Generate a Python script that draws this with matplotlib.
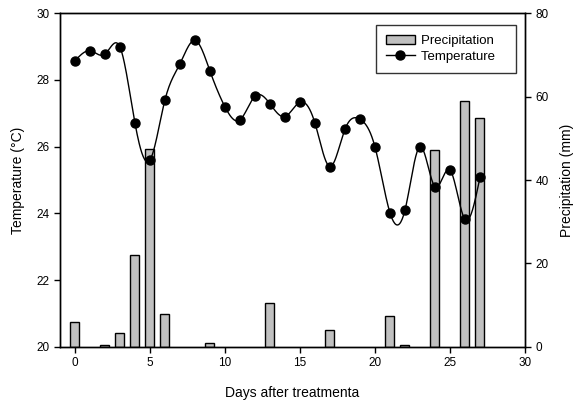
import numpy as np
import matplotlib
matplotlib.use("Agg")
import matplotlib.pyplot as plt
from matplotlib.patches import Patch
from matplotlib.lines import Line2D

plt.rcParams['font.family'] = ['Liberation Sans', 'DejaVu Sans']

days = [0, 1, 2, 3, 4, 5, 6, 7, 8, 9, 10, 11, 12, 13, 14, 15, 16, 17, 18, 19,
        20, 21, 22, 23, 24, 25, 26, 27]
temperature = [28.57, 28.87, 28.77, 28.98, 26.70, 25.60, 27.40, 28.48, 29.18, 28.26,
               27.19, 26.80, 27.51, 27.28, 26.90, 27.33, 26.70, 25.40, 26.52, 26.82,
               25.99, 24.02, 24.10, 26.00, 24.80, 25.30, 23.82, 25.08]

precip_days = [0, 2, 3, 4, 5, 6, 9, 13, 17, 21, 22, 24, 26, 27]
precip = [5.9, 0.4, 3.4, 22.0, 47.5, 8.0, 1.0, 10.5, 4.1, 7.5, 0.4, 47.3, 59.0, 54.9]


def natural_spline(x, y, n=600):
    x = np.asarray(x, float)
    y = np.asarray(y, float)
    m = len(x)
    h = np.diff(x)
    A = np.zeros((m, m))
    b = np.zeros(m)
    A[0, 0] = 1
    A[-1, -1] = 1
    for i in range(1, m - 1):
        A[i, i - 1] = h[i - 1]
        A[i, i] = 2 * (h[i - 1] + h[i])
        A[i, i + 1] = h[i]
        b[i] = 3 * ((y[i + 1] - y[i]) / h[i] - (y[i] - y[i - 1]) / h[i - 1])
    c = np.linalg.solve(A, b)
    bb = (y[1:] - y[:-1]) / h - h * (2 * c[:-1] + c[1:]) / 3
    d = (c[1:] - c[:-1]) / (3 * h)
    xs = np.linspace(x[0], x[-1], n)
    idx = np.clip(np.searchsorted(x, xs) - 1, 0, m - 2)
    dx = xs - x[idx]
    ys = y[idx] + bb[idx] * dx + c[idx] * dx ** 2 + d[idx] * dx ** 3
    return xs, ys


fig = plt.figure(figsize=(5.79, 4.04), dpi=100)
ax = fig.add_axes([0.1036, 0.1411, 0.8031, 0.8267])
ax2 = ax.twinx()

ax2.bar(precip_days, precip, width=0.6, color='#c0c0c0', edgecolor='black', linewidth=1.0)
ax2.set_ylim(0, 80)
ax2.set_yticks([0, 20, 40, 60, 80])
ax2.set_ylabel('Precipitation (mm)', fontsize=10, labelpad=8)

xs, ys = natural_spline(days, temperature)
ax.plot(xs, ys, color='black', linewidth=1.0)
ax.plot(days, temperature, 'o', color='black', markersize=6.5)
ax.set_zorder(ax2.get_zorder() + 1)
ax.patch.set_visible(False)

ax.set_xlim(-1, 30)
ax.set_ylim(20, 30)
ax.set_xticks([0, 5, 10, 15, 20, 25, 30])
ax.set_yticks([20, 22, 24, 26, 28, 30])
ax.set_xlabel('Days after treatmenta', fontsize=10, labelpad=12)
ax.set_ylabel('Temperature (°C)', fontsize=10, labelpad=8)

for a in (ax, ax2):
    a.tick_params(labelsize=8.5, direction='out', length=4, width=1)
    for s in a.spines.values():
        s.set_linewidth(1.0)

handles = [Patch(facecolor='#c0c0c0', edgecolor='black', label='Precipitation   '),
           Line2D([0], [0], color='black', marker='o', markersize=6.5, linewidth=1.0,
                  label='Temperature   ')]
leg = ax.legend(handles=handles, loc='upper right', bbox_to_anchor=(0.981, 0.965),
                fontsize=9.5, frameon=True, fancybox=False, edgecolor='black',
                handlelength=2.2, handletextpad=0.5, borderpad=0.75, labelspacing=0.3,
                borderaxespad=0)
leg.get_frame().set_linewidth(1.0)

fig.savefig('out.png', dpi=100)
